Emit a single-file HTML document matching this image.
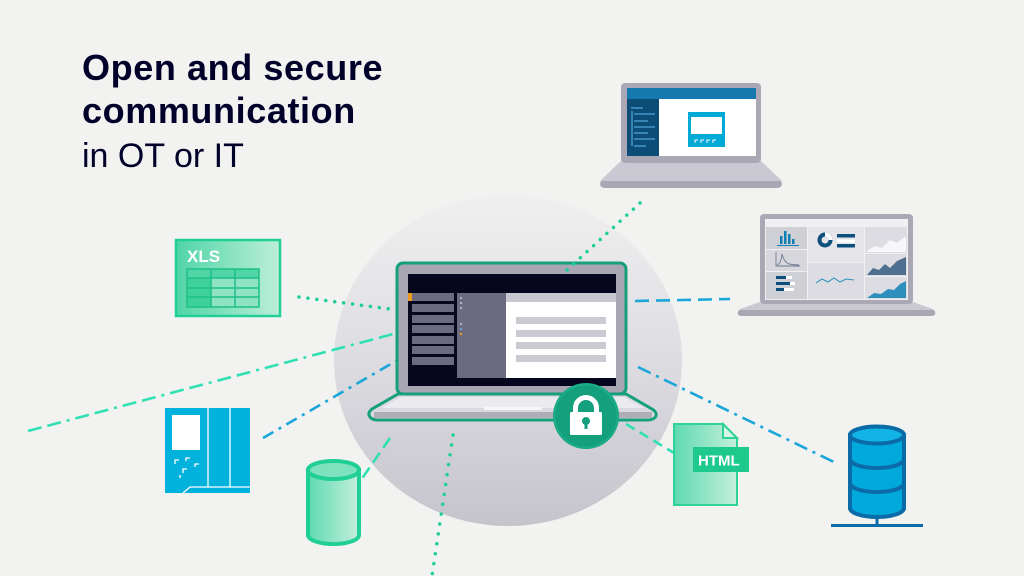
<!DOCTYPE html>
<html><head><meta charset="utf-8"><style>
html,body{margin:0;padding:0;background:#f2f2f1;}
svg{display:block;}
</style></head><body>
<svg width="1024" height="576" viewBox="0 0 1024 576" xmlns="http://www.w3.org/2000/svg">
<defs>
<linearGradient id="cg" x1="0" y1="0" x2="0" y2="1">
<stop offset="0" stop-color="#f0f0f0"/><stop offset="0.5" stop-color="#dddce1"/><stop offset="1" stop-color="#c5c4cc"/>
</linearGradient>
<linearGradient id="gg" x1="0" y1="0" x2="1" y2="0">
<stop offset="0" stop-color="#4fd5a6"/><stop offset="1" stop-color="#bdeed9"/>
</linearGradient>
<linearGradient id="gg2" x1="0" y1="0" x2="1" y2="0">
<stop offset="0" stop-color="#5edab0"/><stop offset="1" stop-color="#c4efdd"/>
</linearGradient>
</defs>
<rect width="1024" height="576" fill="#f2f2f1"/>

<!-- title -->
<g font-family="Liberation Sans, sans-serif" fill="#000028">
<text x="82" y="80" font-size="36" font-weight="700" letter-spacing="0.6">Open and secure</text>
<text x="82" y="123" font-size="36" font-weight="700" letter-spacing="0.6">communication</text>
<text x="82" y="167" font-size="34">in OT or IT</text>
</g>

<!-- big circle -->
<ellipse cx="508" cy="360" rx="174" ry="166" fill="url(#cg)"/>

<!-- connectors -->
<g fill="none" stroke-linecap="round">
<line x1="299" y1="297" x2="390" y2="309" stroke="#1ccf95" stroke-width="3.5" stroke-dasharray="0 9"/>
<line x1="453" y1="435" x2="432" y2="576" stroke="#1ccf95" stroke-width="3.5" stroke-dasharray="0 10"/>
</g>
<g fill="none" stroke-width="2.6">
<line x1="28" y1="431" x2="397" y2="333" stroke="#2fe0b3" stroke-dasharray="14 6 14 6 3 6"/>
<line x1="263" y1="438" x2="396" y2="361" stroke="#1aa6d9" stroke-dasharray="12 6 3 6"/>
<line x1="635" y1="301" x2="730" y2="299" stroke="#1aa6d9" stroke-dasharray="14 7"/>
<line x1="638" y1="367" x2="838" y2="464" stroke="#1aa6d9" stroke-dasharray="14 6 3 6"/>
<line x1="390" y1="438" x2="352" y2="493" stroke="#2fe0b3" stroke-dasharray="12 6"/>
<line x1="626" y1="424" x2="674" y2="453" stroke="#2fe0b3" stroke-dasharray="10 6"/>
</g>

<!-- top laptop -->
<g>
<path d="M621,161 L761,161 L781,180 Q784,188 776,188 L606,188 Q598,188 601,180 Z" fill="#cac9d1"/>
<path d="M601,181 L781,181 Q784,188 776,188 L606,188 Q598,188 601,181 Z" fill="#a8a7b3"/>
<rect x="621" y="83" width="140" height="80" rx="4" fill="#a9a8b4"/>
<rect x="627" y="88" width="129" height="68" fill="#ffffff"/>
<rect x="627" y="88" width="129" height="11" fill="#1579b0"/>
<rect x="627" y="99" width="32" height="57" fill="#0c4d78"/>
<g stroke="#4fa3d6" stroke-width="1.3">
<line x1="631" y1="108" x2="643" y2="108"/>
<line x1="634" y1="114" x2="655" y2="114"/>
<line x1="634" y1="121" x2="648" y2="121"/>
<line x1="634" y1="127" x2="655" y2="127"/>
<line x1="634" y1="133" x2="648" y2="133"/>
<line x1="634" y1="139" x2="655" y2="139"/>
<line x1="634" y1="146" x2="646" y2="146"/>
<line x1="632" y1="111" x2="632" y2="146"/>
</g>
<rect x="688" y="112" width="37" height="35" fill="#00a9d6"/>
<rect x="691" y="117" width="31" height="17" fill="#ffffff"/>
<g stroke="#ffffff" stroke-width="1" fill="none">
<path d="M695,143 v-3 h3 M701,143 v-3 h3 M707,143 v-3 h3 M713,143 v-3 h3"/>
</g>
</g>

<!-- right laptop -->
<g>
<path d="M760,302 L913,302 L933,309 Q938,316 930,316 L743,316 Q735,316 740,309 Z" fill="#cac9d1"/>
<path d="M739,310 L934,310 Q938,316 930,316 L743,316 Q735,316 739,310 Z" fill="#a8a7b3"/>
<rect x="760" y="214" width="153" height="90" rx="4" fill="#a9a8b4"/>
<rect x="765" y="219" width="143" height="81" fill="#f0f0f3"/>
<rect x="766" y="227" width="41" height="22" fill="#cfcfd6"/>
<rect x="766" y="250" width="41" height="21" fill="#d6d6dc"/>
<rect x="766" y="272" width="41" height="27" fill="#cfcfd6"/>
<rect x="808" y="227" width="56" height="35" fill="#e4e4e9"/>
<rect x="808" y="263" width="56" height="36" fill="#dcdce2"/>
<rect x="865" y="227" width="42" height="26" fill="#dcdce2"/>
<rect x="865" y="254" width="42" height="22" fill="#dcdce2"/>
<rect x="865" y="277" width="42" height="22" fill="#dcdce2"/>
<g fill="#0f7fb3">
<rect x="780" y="236" width="2.5" height="8"/><rect x="784" y="231" width="2.5" height="13"/><rect x="788" y="234" width="2.5" height="10"/><rect x="792" y="239" width="2.5" height="5"/>
</g>
<line x1="777" y1="245.5" x2="799" y2="245.5" stroke="#0f7fb3" stroke-width="1"/>
<path d="M776,252 V266 H800 M777,265 Q781,264 782,254 Q784,262 789,264 Q794,265 799,265" fill="none" stroke="#6b7a90" stroke-width="0.9"/>
<g>
<rect x="776" y="276" width="10" height="3" fill="#0d4f7c"/><rect x="786" y="276" width="6" height="3" fill="#fff"/>
<rect x="776" y="282" width="14" height="3" fill="#0d4f7c"/><rect x="790" y="282" width="5" height="3" fill="#fff"/>
<rect x="776" y="288" width="8" height="3" fill="#0d4f7c"/><rect x="784" y="288" width="10" height="3" fill="#fff"/>
</g>
<circle cx="825" cy="240" r="5.5" fill="none" stroke="#0d4f7c" stroke-width="4"/>
<path d="M825,234.5 A5.5,5.5 0 0 1 830.5,240" fill="none" stroke="#ffffff" stroke-width="4"/>
<rect x="837" y="234" width="18" height="3.5" fill="#0d4f7c"/>
<rect x="837" y="239.5" width="18" height="3" fill="#ffffff"/>
<rect x="837" y="244" width="18" height="3.5" fill="#0d4f7c"/>
<path d="M816,283 L822,279 L828,282 L834,278 L840,282 L846,279 L854,280" fill="none" stroke="#2a8fc0" stroke-width="1"/>
<path d="M867,251 L875,246 L882,248 L890,240 L897,243 L906,236 L906,252 L867,252 Z" fill="#f7f7f9"/>
<path d="M867,275 L873,268 L879,270 L885,264 L890,268 L897,261 L906,257 L906,275 Z" fill="#4e6f8f"/>
<path d="M867,298 L874,293 L881,294 L888,289 L894,290 L900,284 L906,281 L906,298 Z" fill="#2e8fbd"/>
</g>

<!-- XLS -->
<g>
<rect x="176" y="240" width="104" height="76" fill="url(#gg)" stroke="#1fcf95" stroke-width="2.5"/>
<text x="187" y="262" font-family="Liberation Sans, sans-serif" font-weight="700" font-size="17" fill="#ffffff">XLS</text>
<rect x="187" y="269" width="72" height="38" fill="#8fe3c5"/>
<rect x="187" y="269" width="24" height="38" fill="#3fd19c"/>
<rect x="187" y="269" width="72" height="9" fill="#4fd5a6"/>
<g stroke="#1fbf88" stroke-width="1.5" fill="none">
<rect x="187" y="269" width="72" height="38"/>
<line x1="211" y1="269" x2="211" y2="307"/><line x1="235" y1="269" x2="235" y2="307"/>
<line x1="187" y1="278" x2="259" y2="278"/><line x1="187" y1="288" x2="259" y2="288"/><line x1="187" y1="297" x2="259" y2="297"/>
</g>
</g>

<!-- PLC -->
<g>
<rect x="165" y="408" width="85" height="85" fill="#00b2dc"/>
<g stroke="#ffffff" stroke-width="1.3" fill="none">
<line x1="208" y1="408" x2="208" y2="487"/>
<line x1="230" y1="408" x2="230" y2="487"/>
<path d="M183,493 L190,487 L250,487"/>
<path d="M175,464 v-4 h4 M186,461 v-3 h4 M195,467 v-3 h4 M183,473 v-4 h4 M180,478 v-3"/>
</g>
<rect x="172" y="415" width="28" height="35" fill="#ffffff"/>
</g>

<!-- green cylinder -->
<g>
<path d="M308,470 L308,535 A25.5,9 0 0 0 359,535 L359,470 Z" fill="url(#gg2)" stroke="#1fcf95" stroke-width="4"/>
<ellipse cx="333.5" cy="470" rx="25.5" ry="9" fill="#7fe2bf" stroke="#1fcf95" stroke-width="4"/>
</g>

<!-- HTML doc -->
<g>
<path d="M674,424 L723,424 L737,438 L737,505 L674,505 Z" fill="url(#gg2)" stroke="#2fd39a" stroke-width="2"/>
<path d="M723,424 L723,438 L737,438 Z" fill="#d6f5e8" stroke="#2fd39a" stroke-width="2"/>
<rect x="693" y="447" width="56" height="25" fill="#1ec98e"/>
<text x="698" y="465.5" font-family="Liberation Sans, sans-serif" font-weight="700" font-size="15" fill="#ffffff">HTML</text>
</g>

<!-- database -->
<g stroke="#0b6ba8" stroke-width="4">
<path d="M850,435 L850,508 A27,9 0 0 0 904,508 L904,435 Z" fill="#00a9dc"/>
<ellipse cx="877" cy="435" rx="27" ry="8.5" fill="#11b4e4"/>
<path d="M850,459 A27,9 0 0 0 904,459" fill="none"/>
<path d="M850,483 A27,9 0 0 0 904,483" fill="none"/>
<line x1="877" y1="517" x2="877" y2="525" stroke-width="3"/>
<line x1="831" y1="525.5" x2="923" y2="525.5" stroke-width="3"/>
</g>

<!-- main laptop -->
<g>
<path d="M398,394 L372,409 Q367,413 370,417 Q372,420 378,420 L648,420 Q654,420 656,416 Q657,412 652,409 L626,394 Z" fill="#d9d9df" stroke="#159f7b" stroke-width="3"/>
<path d="M400,397 L382,408 L644,408 L624,397 Z" fill="#ebebef"/>
<rect x="374" y="412" width="278" height="6" fill="#aeadb8"/>
<rect x="484" y="407" width="58" height="3" fill="#f7f7f9"/>
<rect x="397" y="263" width="229" height="131" rx="6" fill="#a7a6b2" stroke="#159f7b" stroke-width="3"/>
<rect x="408" y="274" width="208" height="112" fill="#07061f"/>
<rect x="457" y="293" width="49" height="85" fill="#6b6a80"/>
<rect x="506" y="293" width="110" height="85" fill="#ffffff"/>
<rect x="506" y="293" width="110" height="9" fill="#c8c7d0"/>
<g fill="#6b6a80">
<rect x="412" y="293" width="42" height="8"/>
<rect x="412" y="304" width="42" height="8"/>
<rect x="412" y="315" width="42" height="8"/>
<rect x="412" y="325" width="42" height="8"/>
<rect x="412" y="336" width="42" height="8"/>
<rect x="412" y="346" width="42" height="8"/>
<rect x="412" y="357" width="42" height="8"/>
</g>
<rect x="408" y="293" width="4" height="8" fill="#ec9a1e"/>
<g>
<circle cx="461" cy="298" r="1.1" fill="#b9b8c6"/>
<circle cx="461" cy="303" r="1.1" fill="#b9b8c6"/>
<circle cx="461" cy="308" r="1.1" fill="#b9b8c6"/>
<circle cx="461" cy="324" r="1.1" fill="#b9b8c6"/>
<circle cx="461" cy="329" r="1.1" fill="#6aa7e0"/>
<circle cx="461" cy="334" r="1.2" fill="#ec9a1e"/>
</g>
<g fill="#cbcad2">
<rect x="516" y="317" width="90" height="7"/>
<rect x="516" y="330" width="90" height="7"/>
<rect x="516" y="342" width="90" height="7"/>
<rect x="516" y="355" width="90" height="7"/>
</g>
</g>

<!-- top dotted connector over the bezel -->
<line x1="640" y1="203" x2="567" y2="270" stroke="#1ccf95" stroke-width="3.5" stroke-dasharray="0 9" stroke-linecap="round" fill="none"/>

<!-- lock -->
<g>
<circle cx="586" cy="416" r="33" fill="#14a07c"/>
<circle cx="586" cy="416" r="31.5" fill="none" stroke="#1aae88" stroke-width="2"/>
<path d="M575.5,413 V408 a10.5,10.5 0 0 1 21,0 V413" fill="none" stroke="#ffffff" stroke-width="5"/>
<rect x="570" y="412" width="32" height="23" rx="1.5" fill="#ffffff"/>
<circle cx="586" cy="421" r="4" fill="#14a07c"/>
<rect x="584.5" y="422" width="3" height="7" fill="#14a07c"/>
</g>
</svg>
</body></html>
